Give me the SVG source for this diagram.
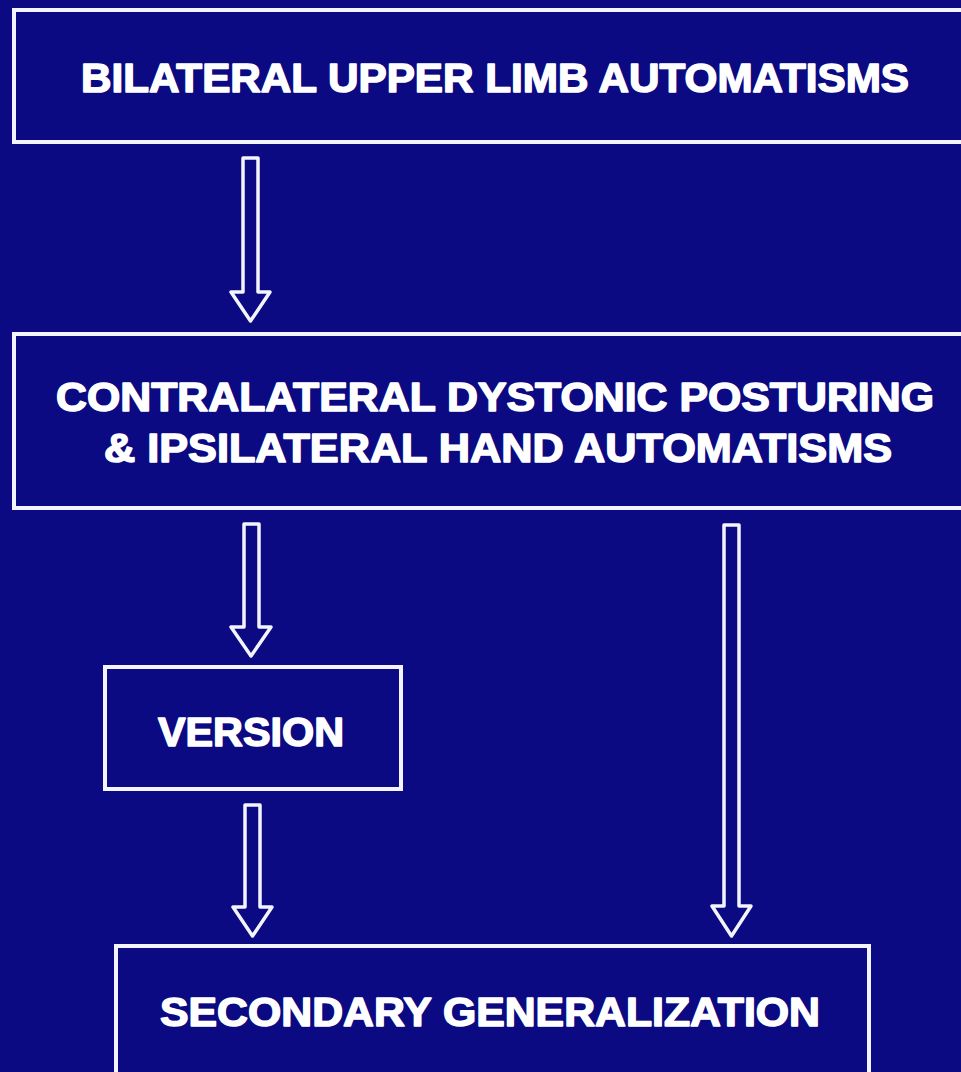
<svg xmlns="http://www.w3.org/2000/svg" width="961" height="1072" viewBox="0 0 961 1072">
  <style>
    .box { fill: none; stroke: #f4f4ff; stroke-width: 4; }
    .arrow { fill: none; stroke: #f4f4ff; stroke-width: 3.5; stroke-linejoin: round; }
    .label { font-family: "Liberation Sans", Arial, sans-serif; font-weight: bold; font-size: 40px; fill: #ffffff; stroke: #ffffff; stroke-width: 1.5; stroke-linejoin: round; text-anchor: middle; }
  </style>
  <rect width="961" height="1072" fill="#0b0a82"/>

  <g id="node-bilateral">
    <rect class="box" x="14" y="10" width="960" height="132"/>
    <text class="label" x="495" y="92" textLength="828" lengthAdjust="spacingAndGlyphs">BILATERAL UPPER LIMB AUTOMATISMS</text>
  </g>

  <g id="node-contralateral">
    <rect class="box" x="14" y="334" width="960" height="174"/>
    <text class="label" x="495" y="411" textLength="878" lengthAdjust="spacingAndGlyphs">CONTRALATERAL DYSTONIC POSTURING</text>
    <text class="label" x="498" y="462" textLength="788" lengthAdjust="spacingAndGlyphs">&amp; IPSILATERAL HAND AUTOMATISMS</text>
  </g>

  <g id="node-version">
    <rect class="box" x="105" y="667" width="296" height="122"/>
    <text class="label" x="251" y="746" textLength="186" lengthAdjust="spacingAndGlyphs">VERSION</text>
  </g>

  <g id="node-secondary">
    <rect class="box" x="116" y="946" width="753" height="140"/>
    <text class="label" x="490" y="1026" textLength="660" lengthAdjust="spacingAndGlyphs">SECONDARY GENERALIZATION</text>
  </g>

  <g id="connectors">
    <!-- hollow block arrows -->
    <path class="arrow" d="M243,158 H258 V292 H270 L250.5,321 L231,292 H243 Z"/>
    <path class="arrow" d="M244,524 H259 V627 H271 L251,656 L231,627 H244 Z"/>
    <path class="arrow" d="M245,805 H260 V907 H272 L252.5,936 L233,907 H245 Z"/>
    <path class="arrow" d="M724,525 H739 V906 H751 L731.5,936 L712,906 H724 Z"/>
  </g>
</svg>
